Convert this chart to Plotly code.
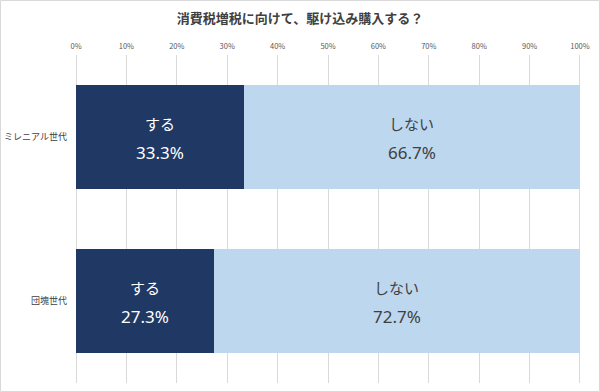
import plotly.graph_objects as go

categories = ["ミレニアル世代", "団塊世代"]
series_names = ["する", "しない"]
suru = [33.3, 27.3]
shinai = [66.7, 72.7]
tick_vals = [0, 10, 20, 30, 40, 50, 60, 70, 80, 90, 100]
tick_text = [f"{v}%" for v in tick_vals]

FONT = "Noto Sans CJK JP, Noto Sans, sans-serif"
dark = "#203864"
light = "#BDD7EE"

fig = go.Figure()
fig.add_trace(go.Bar(y=categories, x=suru, orientation="h", name=series_names[0],
                     marker=dict(color=dark, line=dict(width=0)), hoverinfo="x+y"))
fig.add_trace(go.Bar(y=categories, x=shinai, orientation="h", name=series_names[1],
                     marker=dict(color=light, line=dict(width=0)), hoverinfo="x+y"))

annotations = []
for i, cat in enumerate(categories):
    segs = [(series_names[0], suru[i], 0, "white"), (series_names[1], shinai[i], suru[i], "#404040")]
    for name, val, base, col in segs:
        mid = base + val / 2
        annotations.append(dict(x=mid, y=cat, xref="x", yref="y", text=name, showarrow=False,
                                yshift=14, font=dict(family=FONT, size=15, color=col)))
        annotations.append(dict(x=mid, y=cat, xref="x", yref="y", text=f"{val:.1f}%", showarrow=False,
                                yshift=-15, font=dict(family="Noto Sans, sans-serif", size=17, color=col)))

fig.update_layout(
    barmode="stack",
    bargap=0.36,
    width=600, height=392,
    margin=dict(l=76, r=19, t=55, b=9),
    paper_bgcolor="white", plot_bgcolor="white",
    showlegend=False,
    title=dict(text="<b>消費税増税に向けて、駆け込み購入する？</b>", x=0.5, xanchor="center",
               y=0.952, yanchor="middle",
               font=dict(family=FONT, size=13, color="#404040")),
    xaxis=dict(range=[0, 100.2], side="top", tickvals=tick_vals, ticktext=tick_text,
               showgrid=True, gridcolor="#D9D9D9", gridwidth=1,
               zeroline=True, zerolinecolor="#D9D9D9", zerolinewidth=1,
               showline=False, ticks="", ticklabelstandoff=4,
               tickfont=dict(family=FONT, size=7.5, color="#595959"), fixedrange=True),
    yaxis=dict(autorange="reversed", showgrid=False, zeroline=False, showline=False,
               ticks="", ticklabelstandoff=8, automargin=False,
               tickfont=dict(family=FONT, size=9, color="#404040"), fixedrange=True),
    annotations=annotations,
    shapes=[dict(type="rect", xref="paper", yref="paper",
                 x0=-75.5/505, x1=1+18.5/505, y0=-8.5/328, y1=1+54.5/328,
                 line=dict(color="#D9D9D9", width=1), fillcolor="rgba(0,0,0,0)", layer="below")],
)

fig.write_html("out.html", config={"displayModeBar": False},
               post_script="document.body.style.margin='0';document.body.style.overflow='hidden';")
